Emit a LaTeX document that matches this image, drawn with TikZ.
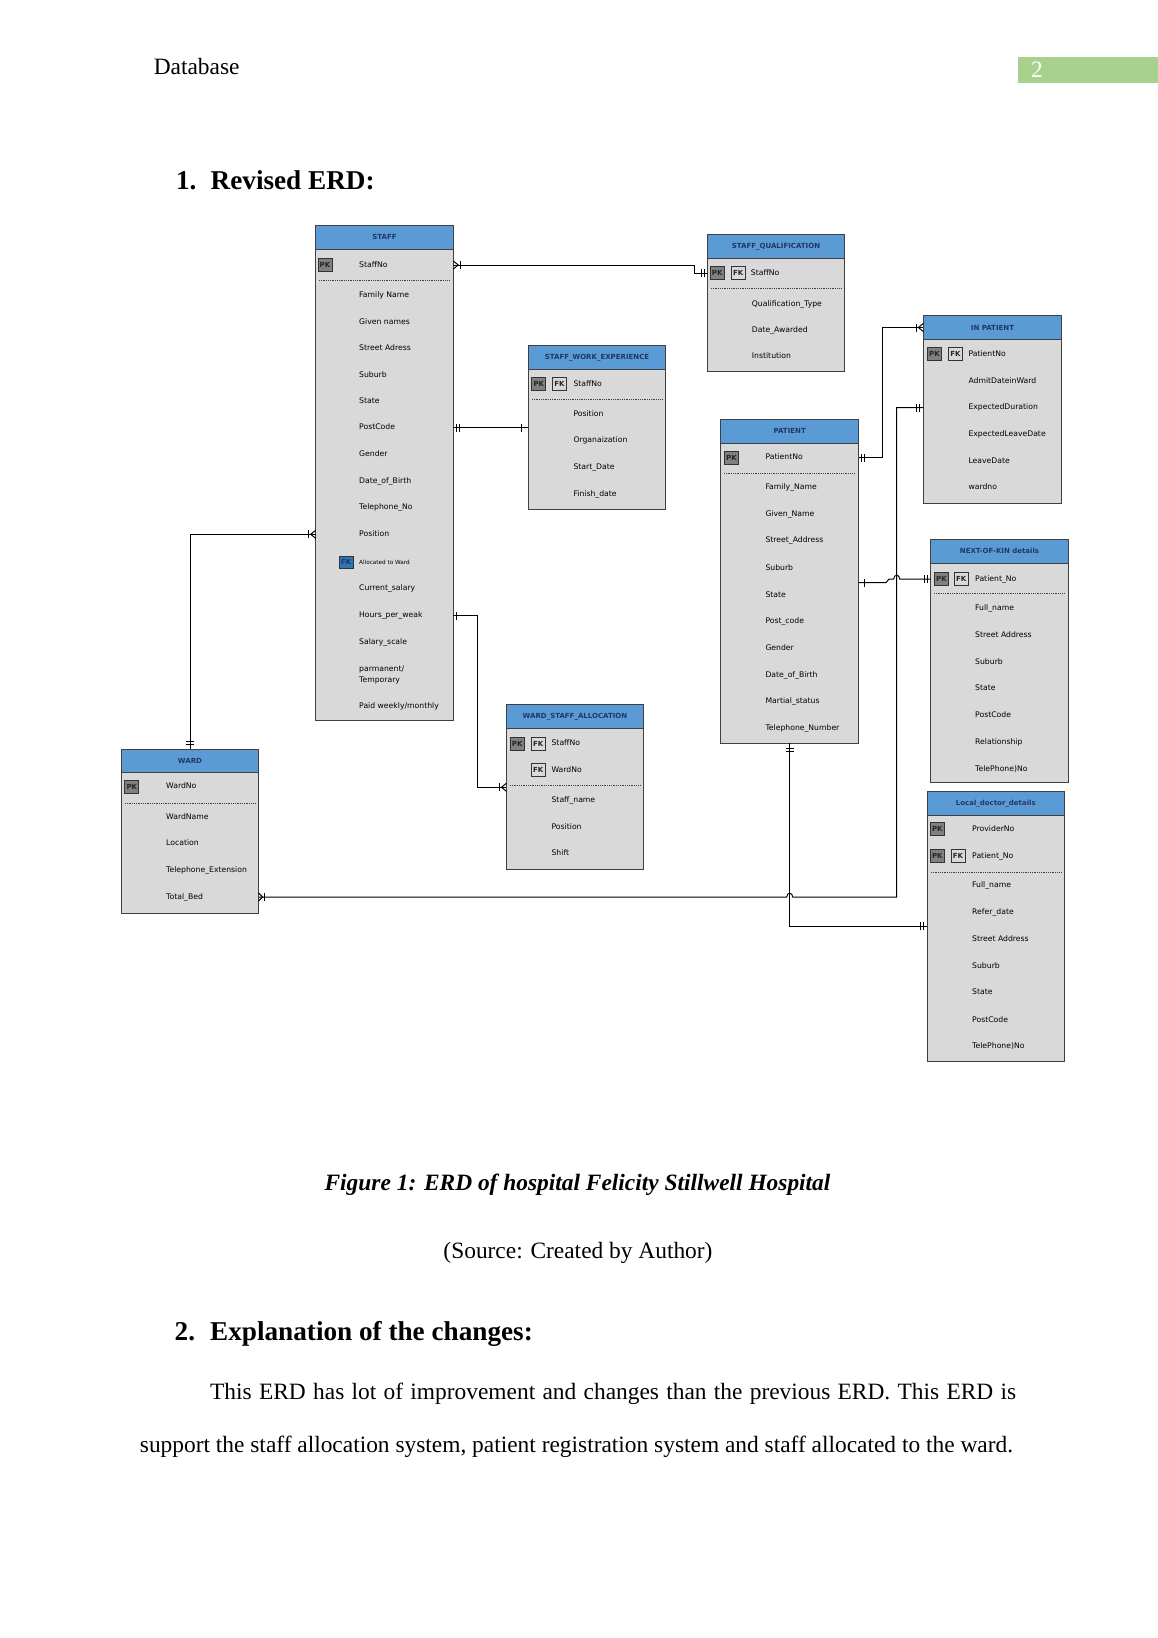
\documentclass[tikz,border=0pt]{standalone}
\usepackage{fontspec}
\setmainfont{Liberation Serif}
\newfontfamily\erdf{DejaVu Sans}
\usetikzlibrary{calc}
\definecolor{hdr}{HTML}{5B9BD5}
\definecolor{bodyc}{HTML}{D9D9D9}
\definecolor{edge}{HTML}{404040}
\definecolor{ttl}{HTML}{1F3864}
\definecolor{pkc}{HTML}{808080}
\definecolor{fkdark}{HTML}{2E75B6}
\definecolor{pagegreen}{HTML}{A9D18E}
\tikzset{
  entbody/.style={draw=edge, fill=bodyc, line width=1pt, inner sep=0, outer sep=0},
  enthead/.style={draw=edge, fill=hdr, line width=1pt, inner sep=0, outer sep=0,
     font=\fontsize{7}{8}\erdf\bfseries, text=ttl},
  attr/.style={anchor=west, inner sep=0, font=\fontsize{7.7}{8.8}\erdf, text=black,
     text height=5.6pt, text depth=1.5pt},
  keyb/.style={draw=black!80, line width=0.8pt, minimum width=14pt, minimum height=13pt,
     inner sep=0, font=\fontsize{7}{8}\erdf\bfseries},
  pk/.style={keyb, fill=pkc, text=black!85},
  fk/.style={keyb, fill=bodyc, text=black!85},
  fkb/.style={keyb, fill=fkdark, text=ttl},
  sepline/.style={draw=edge, line width=0.7pt, dash pattern=on 0.9pt off 0.9pt},
  conn/.style={draw=black, line width=1pt},
  pagetext/.style={inner sep=0, font=\fontsize{23.4}{28}\selectfont},
  headtext/.style={inner sep=0, font=\fontsize{27.2}{32}\selectfont\bfseries}
}
\newcommand\ent[7]{%
  \pgfmathsetmacro\ew{#4-#2}%
  \pgfmathsetmacro\eh{#5-#3}%
  \pgfmathsetmacro\hh{#6-#3}%
  \node[entbody, anchor=north west, minimum width=\ew pt, minimum height=\eh pt] (#1) at (#2,#3) {};
  \node[enthead, anchor=north west, minimum width=\ew pt, minimum height=\hh pt] (#1-h) at (#2,#3) {#7};}
\newcommand\row[4]{\node[attr] (#1) at (#2,#3) {#4};}
\newcommand\tickH[2]{\draw[conn] ([xshift=#2pt,yshift=-4pt]#1) -- ([xshift=#2pt,yshift=4pt]#1);}
\newcommand\tickV[2]{\draw[conn] ([yshift=#2pt,xshift=-4pt]#1) -- ([yshift=#2pt,xshift=4pt]#1);}
\newcommand\crowH[2]{\draw[conn] ([yshift=4pt]#1) -- ([xshift=#2pt]#1) -- ([yshift=-4pt]#1);}
\begin{document}
\begin{tikzpicture}[x=1pt,y=-1pt]
\fill[white] (0,0) rectangle (1158,1638);
\useasboundingbox (0,0) rectangle (1158,1638);

% ---------- page header ----------
\node[pagetext, anchor=base west] (dbhead) at (153.6,74.5) {Database};
\node[fill=pagegreen, anchor=north west, minimum width=140pt, minimum height=25.7pt, inner sep=0] (pgbox) at (1018,57) {};
\node[pagetext, anchor=base, text=white] (pgnum) at (1037,77.7) {2};
\node[headtext, anchor=base west] (h1n) at (175.8,189) {1.};
\node[headtext, anchor=base west] (h1) at (210.5,189) {Revised ERD:};

% ---------- STAFF ----------
\ent{staff}{315.7}{225}{453.3}{720.7}{249.3}{STAFF}
\node[pk] (staff-pk) at (325,265) {PK};
\row{staff-1}{359}{265}{StaffNo}
\draw[sepline] (319,280.7) -- (450,280.7);
\row{staff-2}{359}{295}{Family Name}
\row{staff-3}{359}{322}{Given names}
\row{staff-4}{359}{348.3}{Street Adress}
\row{staff-5}{359}{375}{Suburb}
\row{staff-6}{359}{401.7}{State}
\row{staff-7}{359}{427.7}{PostCode}
\row{staff-8}{359}{454.3}{Gender}
\row{staff-9}{359}{481}{Date\_of\_Birth}
\row{staff-10}{359}{507.7}{Telephone\_No}
\row{staff-11}{359}{534.3}{Position}
\node[fkb, minimum height=12.7pt] (staff-fk) at (346.3,562.3) {FK};
\node[attr, font=\fontsize{5.7}{6.5}\erdf] (staff-12) at (359,562) {Allocated to Ward};
\row{staff-13}{359}{588.3}{Current\_salary}
\row{staff-14}{359}{615.7}{Hours\_per\_weak}
\row{staff-15}{359}{642.3}{Salary\_scale}
\row{staff-16a}{359}{669.3}{parmanent/}
\row{staff-16b}{359}{680}{Temporary}
\row{staff-17}{359}{706.7}{Paid weekly/monthly}

% ---------- STAFF_QUALIFICATION ----------
\ent{sq}{707.7}{234.3}{844.3}{371}{258.3}{STAFF\_QUALIFICATION}
\node[pk] (sq-pk) at (717.2,273.3) {PK};
\node[fk] (sq-fk) at (738.2,273.3) {FK};
\row{sq-1}{750.7}{273.3}{StaffNo}
\draw[sepline] (711,288.3) -- (841,288.3);
\row{sq-2}{751.7}{304.3}{Qualification\_Type}
\row{sq-3}{751.7}{330}{Date\_Awarded}
\row{sq-4}{751.7}{356.7}{Institution}

% ---------- STAFF_WORK_EXPERIENCE ----------
\ent{swe}{528.3}{345.7}{665.7}{509}{369.3}{STAFF\_WORK\_EXPERIENCE}
\node[pk] (swe-pk) at (538.8,384) {PK};
\node[fk] (swe-fk) at (559.5,384) {FK};
\row{swe-1}{573.3}{384}{StaffNo}
\draw[sepline] (532,399) -- (662,399);
\row{swe-2}{573.3}{414.3}{Position}
\row{swe-3}{573.3}{440.7}{Organaization}
\row{swe-4}{573.3}{467.7}{Start\_Date}
\row{swe-5}{573.3}{494.3}{Finish\_date}

% ---------- PATIENT ----------
\ent{pat}{720.7}{419.3}{858.7}{743.3}{443.3}{PATIENT}
\node[pk] (pat-pk) at (731.5,457.7) {PK};
\row{pat-1}{765.3}{457.7}{PatientNo}
\draw[sepline] (724,473.3) -- (855,473.3);
\row{pat-2}{765.3}{487.7}{Family\_Name}
\row{pat-3}{765.3}{514.3}{Given\_Name}
\row{pat-4}{765.3}{540.7}{Street\_Address}
\row{pat-5}{765.3}{568.3}{Suburb}
\row{pat-6}{765.3}{595}{State}
\row{pat-7}{765.3}{621.7}{Post\_code}
\row{pat-8}{765.3}{648.3}{Gender}
\row{pat-9}{765.3}{675}{Date\_of\_Birth}
\row{pat-10}{765.3}{701.7}{Martial\_status}
\row{pat-11}{765.3}{728.3}{Telephone\_Number}

% ---------- IN PATIENT ----------
\ent{inp}{923.3}{315.7}{1061.7}{503.3}{339.3}{IN PATIENT}
\node[pk] (inp-pk) at (934.5,354) {PK};
\node[fk] (inp-fk) at (955.5,354) {FK};
\row{inp-1}{968.3}{354}{PatientNo}
\row{inp-2}{968.3}{381}{AdmitDateinWard}
\row{inp-3}{968.3}{407.7}{ExpectedDuration}
\row{inp-4}{968.3}{434.3}{ExpectedLeaveDate}
\row{inp-5}{968.3}{461}{LeaveDate}
\row{inp-6}{968.3}{487.7}{wardno}

% ---------- NEXT-OF-KIN ----------
\ent{nok}{930.7}{539.3}{1068.3}{782.8}{563.3}{NEXT-OF-KIN details}
\node[pk] (nok-pk) at (941.5,579) {PK};
\node[fk] (nok-fk) at (961.3,579) {FK};
\row{nok-1}{975}{579}{Patient\_No}
\draw[sepline] (934,593.3) -- (1065,593.3);
\row{nok-2}{975}{608.7}{Full\_name}
\row{nok-3}{975}{635.3}{Street Address}
\row{nok-4}{975}{662}{Suburb}
\row{nok-5}{975}{688.7}{State}
\row{nok-6}{975}{715.3}{PostCode}
\row{nok-7}{975}{742}{Relationship}
\row{nok-8}{975}{769}{TelePhone)No}

% ---------- Local_doctor_details ----------
\ent{ldd}{927.3}{791.7}{1064.3}{1061}{815.7}{Local\_doctor\_details}
\node[pk] (ldd-pk1) at (937.3,829.3) {PK};
\row{ldd-1}{972}{829.3}{ProviderNo}
\node[pk] (ldd-pk2) at (937.3,856) {PK};
\node[fk] (ldd-fk) at (958,856) {FK};
\row{ldd-2}{972}{856}{Patient\_No}
\draw[sepline] (931,872.3) -- (1061,872.3);
\row{ldd-3}{972}{885.7}{Full\_name}
\row{ldd-4}{972}{912.7}{Refer\_date}
\row{ldd-5}{972}{939.3}{Street Address}
\row{ldd-6}{972}{966}{Suburb}
\row{ldd-7}{972}{992.7}{State}
\row{ldd-8}{972}{1020}{PostCode}
\row{ldd-9}{972}{1046.7}{TelePhone)No}

% ---------- WARD ----------
\ent{ward}{121.4}{749.3}{258.6}{913.3}{772.3}{WARD}
\node[pk] (ward-pk) at (131.8,786.7) {PK};
\row{ward-1}{166}{786.7}{WardNo}
\draw[sepline] (125,803.7) -- (255,803.7);
\row{ward-2}{166}{817}{WardName}
\row{ward-3}{166}{843.7}{Location}
\row{ward-4}{166}{870.3}{Telephone\_Extension}
\row{ward-5}{166}{897}{Total\_Bed}

% ---------- WARD_STAFF_ALLOCATION ----------
\ent{wsa}{506.4}{704.3}{643.6}{869.3}{728.7}{WARD\_STAFF\_ALLOCATION}
\node[pk] (wsa-pk) at (517.2,743.7) {PK};
\node[fk] (wsa-fk1) at (538.2,743.7) {FK};
\row{wsa-1}{551.4}{743.7}{StaffNo}
\node[fk] (wsa-fk2) at (538.2,770.3) {FK};
\row{wsa-2}{551.4}{770.3}{WardNo}
\coordinate (wsa-dl) at (0,787.3);
\draw[sepline] (510,785.7) -- (640,785.7);
\row{wsa-3}{551.4}{800.7}{Staff\_name}
\row{wsa-4}{551.4}{827.3}{Position}
\row{wsa-5}{551.4}{853.7}{Shift}

% ---------- connectors ----------
% C1 STAFF.StaffNo -> STAFF_QUALIFICATION
\path (staff.east |- staff-1) coordinate (c1s) (sq.west |- sq-1) coordinate (c1e);
\draw[conn] (c1s) -- ++(241,0) |- (c1e);
\crowH{c1s}{5} \tickH{c1s}{7}
\tickH{c1e}{-3.5} \tickH{c1e}{-6.5}

% C2 STAFF.PostCode -> STAFF_WORK_EXPERIENCE
\path (staff.east |- staff-7) coordinate (c2s) (swe.west |- staff-7) coordinate (c2e);
\draw[conn] (c2s) -- (c2e);
\tickH{c2s}{3.5} \tickH{c2s}{6}
\tickH{c2e}{-6.5}

% C3 WARD -> STAFF.Position
\path (staff.west |- staff-11) coordinate (c3e);
\draw[conn] (ward.north) |- (c3e);
\tickV{ward.north}{5} \tickV{ward.north}{8}
\crowH{c3e}{-5} \tickH{c3e}{-7}

% C4 STAFF.Hours -> WARD_STAFF_ALLOCATION
\path (staff.east |- staff-14) coordinate (c4s) (wsa.west |- wsa-dl) coordinate (c4e);
\draw[conn] (c4s) -- ++(24.6,0) |- (c4e);
\tickH{c4s}{3}
\crowH{c4e}{-5} \tickH{c4e}{-7}

% C5 WARD.Total_Bed -> IN PATIENT.ExpectedDuration (hop over C8)
\path (ward.east |- ward-5) coordinate (c5s) (inp.west |- inp-3) coordinate (c5e);
\path (pat.south |- c5s) coordinate (x58);
\path (c5s) ++(638.1,0) coordinate (c5k);
\draw[conn] (c5s) -- ([xshift=-3pt]x58) .. controls ([xshift=-3pt,yshift=5pt]x58) and ([xshift=3pt,yshift=5pt]x58) .. ([xshift=3pt]x58) -- (c5k) |- (c5e);
\crowH{c5s}{4} \tickH{c5s}{6}
\tickH{c5e}{-3.5} \tickH{c5e}{-6.5}

% C6 PATIENT.PatientNo -> IN PATIENT
\path (pat.east |- pat-1) coordinate (c6s) (inp.west |- inp-h) coordinate (c6e);
\draw[conn] (c6s) -- ++(23.6,0) |- (c6e);
\tickH{c6s}{3} \tickH{c6s}{5.5}
\crowH{c6e}{-5} \tickH{c6e}{-7}

% C7 PATIENT -> NEXT-OF-KIN (hop over C5)
\path (pat.east |- nok-1) ++(0,3.7) coordinate (c7s);
\path (nok.west |- nok-1) coordinate (c7e);
\path (c5k |- c7e) coordinate (x7);
\draw[conn] (c7s) -- ++(27.3,0) -- ++(3,-3.7) -- ([xshift=-3pt]x7) .. controls ([xshift=-3pt,yshift=5pt]x7) and ([xshift=3pt,yshift=5pt]x7) .. ([xshift=3pt]x7) -- (c7e);
\tickH{c7s}{6}
\tickH{c7e}{-3} \tickH{c7e}{-6}

% C8 PATIENT -> Local_doctor_details
\path (pat.south) ++(0,183) coordinate (c8k);
\path (ldd.west |- c8k) coordinate (c8e);
\draw[conn] (pat.south) -- (c8k) -- (c8e);
\tickV{pat.south}{-5} \tickV{pat.south}{-8}
\tickH{c8e}{-4} \tickH{c8e}{-7}

% ---------- caption and text ----------
\node[pagetext, anchor=base, font=\fontsize{23.4}{28}\selectfont\bfseries\itshape] (cap) at (577.5,1190.5) {Figure 1: ERD of hospital Felicity Stillwell Hospital};
\node[pagetext, anchor=base] (src) at (578,1258.5) {(Source: Created by Author)};
\node[headtext, anchor=base west] (h2n) at (174.5,1340) {2.};
\node[headtext, anchor=base west] (h2) at (210,1340) {Explanation of the changes:};
\node[pagetext, anchor=base west] (p1) at (210,1399) {\makebox[806pt][s]{This ERD has lot of improvement and changes than the previous ERD. This ERD is}};
\node[pagetext, anchor=base west] (p2) at (139.7,1452.5) {support the staff allocation system, patient registration system and staff allocated to the ward.};
\end{tikzpicture}
\end{document}
